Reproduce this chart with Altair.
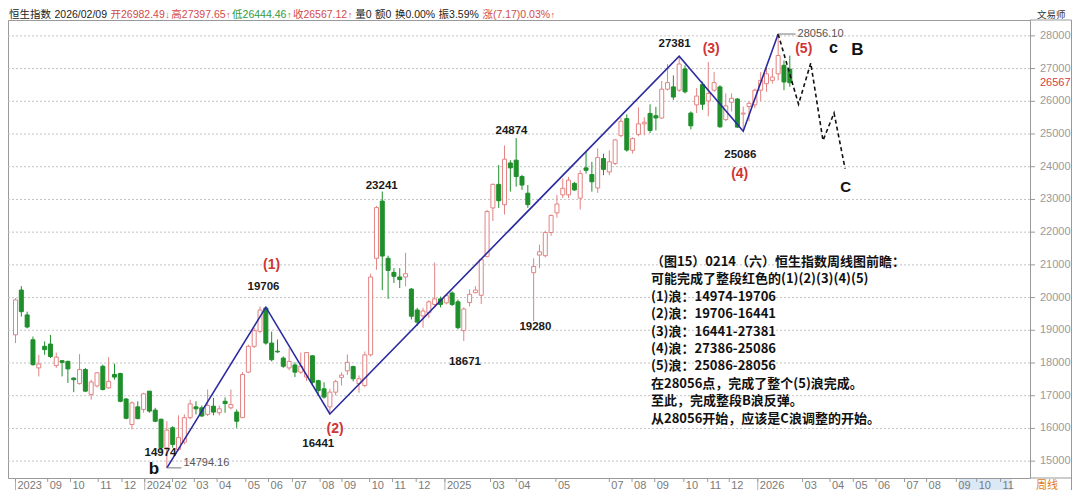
import altair as alt
import pandas as pd

# ---------------- data (weekly candles, first week 2023-07-24, last 2026-02-09) -------------
week_start = "2023-07-24"
opens = [18860, 20230, 19470, 18710, 17850, 18510, 18580, 17920, 18070, 18050,
         17540, 17370, 17800, 17040, 17300, 17900, 17240, 17650, 17680, 16900,
         16120, 16660, 16580, 17140, 16560, 16280, 15410, 16020, 15360, 15580,
         16330, 16660, 16630, 16430, 16680, 16480, 16830, 16630, 16500, 16330,
         17720, 18510, 18970, 19680, 18610, 18360, 18150, 17850, 17940, 17720,
         17570, 18220, 17460, 17210, 16660, 17110, 17560, 17760, 17890, 17370,
         17310, 18250, 21200, 22950, 21200, 20770, 20630, 20630, 20260, 19620,
         19440, 19540, 19790, 19960, 19840, 20140, 19870, 18990, 19850, 20150,
         20070, 21260, 22740, 23460, 22840, 24115, 24200, 23700, 23190, 20760,
         21300, 21280, 21990, 22590, 23140, 23140, 23490, 23040, 23965, 23760,
         23350, 24250, 23840, 24100, 24950, 25470, 24500, 24990, 25310, 25630,
         25560, 25490, 26370, 26440, 26340, 26990, 25640, 25890, 26510, 26010,
         26340, 26440, 25440, 25970, 26070, 25610, 25840, 25890, 26340, 26540,
         26640, 26840, 27100, 26982.49]
highs = [19980, 20350, 19570, 18810, 18250, 18660, 18860, 18320, 18090, 18070,
         17560, 18270, 17850, 17490, 17720, 17950, 18180, 17980, 17700, 16930,
         16830, 16830, 17090, 17140, 16630, 16300, 16220, 16070, 16400, 16430,
         16880, 16830, 16700, 17190, 16930, 16700, 16950, 17190, 16580, 17720,
         18560, 19070, 19730, 19706, 18960, 18720, 18200, 18450, 18020, 18320,
         18330, 18240, 17490, 17410, 17210, 17490, 17710, 18260, 17920, 17620,
         18350, 20730, 22800, 23241, 21280, 20900, 20900, 21370, 20290, 19690,
         19690, 19920, 21070, 20030, 20120, 20190, 19940, 19700, 20250, 20350,
         21180, 22680, 23490, 24050, 24650, 24200, 24874, 23750, 23440, 21200,
         21620, 22040, 22540, 23140, 23640, 23690, 23540, 23890, 24450, 24150,
         24560, 24400, 24500, 24850, 25500, 25600, 24900, 25810, 25510, 25910,
         25830, 26620, 27140, 26790, 27381, 27100, 25690, 26410, 26600, 27200,
         26900, 26490, 26240, 26240, 26100, 25840, 26000, 26390, 26890, 27020,
         27000, 28056.10, 27250, 27397.65]
lows = [18610, 19420, 19060, 17920, 17590, 18250, 18150, 17850, 17590, 17390,
        17110, 17340, 17110, 16880, 17250, 17160, 17210, 17490, 16800, 16280,
        15970, 16280, 16480, 16480, 16190, 15270, 14794.16, 15410, 15310, 15510,
        16280, 16430, 16350, 16380, 16400, 16400, 16480, 16580, 16020, 16330,
        17700, 18460, 18910, 18560, 18050, 18310, 17850, 17780, 17570, 17670,
        17450, 17310, 17000, 16910, 16441, 17010, 17310, 17640, 17440, 17090,
        17260, 18200, 20850, 20230, 19960, 20445, 20290, 20340, 19330, 19130,
        19080, 19380, 19740, 19700, 19790, 19740, 19030, 18671, 19730, 20130,
        19800, 21230, 22340, 22740, 22540, 23240, 23390, 23290, 22740, 19280,
        20900, 21230, 21890, 22440, 23040, 23040, 23260, 22690, 23790, 23240,
        23200, 23740, 23740, 24050, 24900, 24460, 24400, 24930, 24960, 25030,
        25110, 25460, 26330, 26040, 26290, 26240, 25140, 25640, 25740, 25540,
        26290, 25190, 25390, 25690, 25190, 25086, 25390, 25790, 26010, 26290,
        26540, 26640, 26340, 26444.46]
closes = [19930, 19570, 19100, 17950, 17970, 18410, 18200, 18180, 18020, 17820,
          17490, 17800, 17140, 17420, 17700, 17190, 17440, 17570, 16830, 16310,
          16780, 16300, 17060, 16530, 16220, 15410, 15950, 15510, 15720, 16330,
          16750, 16600, 16380, 16700, 16500, 16600, 16760, 16730, 16220, 17650,
          18510, 18990, 19620, 18610, 18100, 18340, 17900, 18050, 17720, 17900,
          18320, 17410, 17160, 16960, 17110, 17430, 17630, 18020, 17520, 17520,
          18250, 20630, 22750, 21270, 20830, 20650, 20550, 20730, 19430, 19250,
          19590, 19870, 19960, 19790, 20060, 19790, 19080, 19650, 20100, 20230,
          21160, 22630, 23460, 22960, 24230, 23965, 23700, 23440, 22840, 20950,
          21400, 21990, 22510, 22860, 23340, 23590, 23290, 23790, 23890, 23540,
          24280, 23920, 24150, 24820, 25390, 24510, 24860, 25310, 25360, 25110,
          25490, 26370, 26570, 26130, 27140, 26290, 25250, 26160, 25910, 26240,
          26570, 25220, 25860, 26090, 25210, 25640, 25940, 26340, 26640, 26840,
          26740, 27400, 26590, 26567.12]

# wave count (blue) and projected path (dashed): week index / index value
wave_week = [26, 43, 54, 114, 125, 131]
wave_value = [14794.16, 19706, 16441, 27381, 25086, 28056.10]
proj_week = [131, 134.5, 136.6, 138.7, 140.6, 142.5]
proj_value = [28056.10, 25910, 27170, 24800, 25640, 23940]

# x-axis ticks (week index) and labels
tick_week = [0, 5.53, 9.44, 14.21, 18.29, 22.2, 26.97, 30.71, 34.63, 39.56, 43.47,
             47.56, 52.32, 56.07, 60.83, 64.75, 68.83, 73.76, 81.59, 86.01, 92.82,
             102.0, 105.9, 109.8, 114.8, 118.9, 122.6, 127.5, 135.2, 139.9, 143.9,
             147.8, 152.7, 156.5, 161.6, 165.1, 169.2]
tick_label = ["2023", "09", "10", "11", "12", "2024", "02", "03", "04", "05", "06",
              "07", "08", "09", "10", "11", "12", "2025", "03", "04", "05",
              "07", "08", "09", "10", "11", "12", "2026", "03", "04", "05",
              "06", "07", "08", "09", "10", "11"]
year_tick_week = [0, 22.2, 73.76, 127.5]
y_ticks = list(range(15000, 28001, 1000))

# annotations
num_text = ["14974", "19706", "16441", "23241", "18671", "24874", "19280", "27381", "25086"]
num_week = [24.9, 42.6, 52.0, 62.9, 77.2, 85.2, 89.3, 113.2, 124.5]
num_value = [15242, 20333, 15515, 23409, 18045, 25090, 19090, 27758, 24364]

wave_lbl_text = ["(1)", "(2)", "(3)", "(4)", "(5)"]
wave_lbl_week = [44.0, 54.9, 119.5, 124.4, 135.4]
wave_lbl_value = [21000, 15970, 27606, 23790, 27606]

letter_text = ["b", "c", "B", "C"]
letter_week = [23.8, 140.5, 144.6, 142.6]
letter_value = [14610, 27480, 27420, 23242]
letter_size = [17, 16, 17, 15]

mark_text = ["14794.16", "28056.10"]
mark_from = [26, 131]
mark_to = [28.5, 134.0]
mark_value = [14794.16, 28056.10]
mark_text_value = [14940, 28050]

last_close = 26567.12

header_text = ["恒生指数", "2026/02/09", "开26982.49", "高27397.65", "低26444.46",
               "收26567.12", "量0", "额0", "换0.00%", "振3.59%", "涨(7.17)0.03%"]
header_arrow = ["", "", "↓", "↑", "↑", "↑", "", "", "", "", "↑"]
header_color = ["#222222", "#222222", "#d24b4b", "#d24b4b", "#2f9a3c",
                "#d24b4b", "#222222", "#222222", "#222222", "#222222", "#d24b4b"]
header_gap = [3.5, 3.5, 0, 0, 0, 1.5, 3.5, 3.5, 3.5, 3.5, 0]

note_lines = ["（图15）0214（六）恒生指数周线图前瞻：",
              "可能完成了整段红色的(1)(2)(3)(4)(5)",
              "(1)浪：14974-19706",
              "(2)浪：19706-16441",
              "(3)浪：16441-27381",
              "(4)浪：27386-25086",
              "(5)浪：25086-28056",
              "在28056点，完成了整个(5)浪完成。",
              "至此，完成整段B浪反弹。",
              "从28056开始，应该是C浪调整的开始。"]

# ---------------- build -------------
RED = "#e38383"
GREEN = "#1f8f2b"
CJK = "Noto Sans CJK SC"
LAT = "Liberation Sans"
W, H = 1022, 458          # plot area
HDR_Y = -5

n = len(opens)
df = pd.DataFrame({
    "i": list(range(n)),
    "week": pd.date_range(week_start, periods=n, freq="7D").strftime("%Y-%m-%d"),
    "open": opens, "high": highs, "low": lows, "close": closes,
})
df["dir"] = ["up" if c >= o else "down" for o, c in zip(opens, closes)]

xs = alt.Scale(domain=[-0.43, 173.4], nice=False, zero=False)
ys = alt.Scale(domain=[14485, 28485], nice=False, zero=False)
one = pd.DataFrame({"a": [0]})


def X(field):
    return alt.X(field, scale=xs, axis=None)


def Y(field):
    return alt.Y(field, scale=ys, axis=None)


# ---- hand-made axes ----
ydf = pd.DataFrame({"v": y_ticks, "lab": [str(v) for v in y_ticks]})
ygrid = alt.Chart(ydf).mark_rule(color="#c2c2c2", strokeDash=[2, 2], strokeWidth=1).encode(
    y=Y("v:Q"), x=alt.value(0), x2=alt.value(W))
ytick = alt.Chart(ydf).mark_rule(color="#9a9a9a").encode(
    y=Y("v:Q"), x=alt.value(W), x2=alt.value(W + 5))
ylab = alt.Chart(ydf).mark_text(align="left", baseline="middle", font=LAT, fontSize=11,
                                color="#9a9a9a").encode(
    y=Y("v:Q"), x=alt.value(W + 10), text="lab:N")

xdf = pd.DataFrame({"t": tick_week, "lab": tick_label})
hl = alt.Chart(pd.DataFrame({"x0": [162.1], "x1": [171.1]})).mark_rect(color="#dbe8f6").encode(
    x=X("x0:Q"), x2="x1:Q", y=alt.value(H + 1), y2=alt.value(H + 13))
xtick = alt.Chart(xdf).mark_rule(color="#9a9a9a").encode(
    x=X("t:Q"), y=alt.value(H), y2=alt.value(H + 4))
ysep = alt.Chart(pd.DataFrame({"t": year_tick_week})).mark_rule(color="#b0b0b0").encode(
    x=X("t:Q"), y=alt.value(H), y2=alt.value(H + 13))
xlab = alt.Chart(xdf).mark_text(align="left", baseline="top", dx=2, font=LAT, fontSize=11,
                                color="#7a7a7a").encode(
    x=X("t:Q"), y=alt.value(H + 1.5), text="lab:N")

# ---- candles ----
wick = alt.Chart(df).mark_rule(strokeWidth=1).encode(
    x=X("i:Q"), y=Y("low:Q"), y2="high:Q",
    color=alt.Color("dir:N", scale=alt.Scale(domain=["up", "down"], range=[RED, GREEN]), legend=None),
)
body = alt.Chart(df).mark_bar(size=4, strokeWidth=1).encode(
    x=X("i:Q"), y=Y("open:Q"), y2="close:Q",
    fill=alt.Fill("dir:N", scale=alt.Scale(domain=["up", "down"], range=["#ffffff", GREEN]), legend=None),
    stroke=alt.Stroke("dir:N", scale=alt.Scale(domain=["up", "down"], range=[RED, GREEN]), legend=None),
)

wave = alt.Chart(pd.DataFrame({"w": wave_week, "v": wave_value, "k": range(len(wave_week))})).mark_line(
    color="#2b2ba0", strokeWidth=1.6).encode(x=X("w:Q"), y=Y("v:Q"), order="k:Q")
proj = alt.Chart(pd.DataFrame({"w": proj_week, "v": proj_value, "k": range(len(proj_week))})).mark_line(
    color="#111111", strokeWidth=1.6, strokeDash=[4, 3]).encode(x=X("w:Q"), y=Y("v:Q"), order="k:Q")

mdf = pd.DataFrame({"a": mark_from, "b": mark_to, "v": mark_value, "t": mark_text, "tv": mark_text_value})
conn = alt.Chart(mdf).mark_rule(color="#777777", strokeWidth=1).encode(
    x=X("a:Q"), x2="b:Q", y=Y("v:Q"))
conn_t = alt.Chart(mdf).mark_text(align="left", baseline="middle", font=LAT, fontSize=11,
                                  color="#555555", dx=2).encode(
    x=X("b:Q"), y=Y("tv:Q"), text="t:N")

nums = alt.Chart(pd.DataFrame({"w": num_week, "v": num_value, "t": num_text})).mark_text(
    font=LAT, fontSize=11.5, fontWeight="bold", color="#1a1a1a", baseline="middle").encode(
    x=X("w:Q"), y=Y("v:Q"), text="t:N")
wlbl = alt.Chart(pd.DataFrame({"w": wave_lbl_week, "v": wave_lbl_value, "t": wave_lbl_text})).mark_text(
    font=LAT, fontSize=14, fontWeight="bold", color="#d03535", baseline="middle").encode(
    x=X("w:Q"), y=Y("v:Q"), text="t:N")
letters = alt.Chart(pd.DataFrame({"w": letter_week, "v": letter_value, "t": letter_text,
                                  "s": letter_size})).mark_text(
    font=LAT, fontWeight="bold", color="#111111", baseline="alphabetic").encode(
    x=X("w:Q"), y=Y("v:Q"), text="t:N", size=alt.Size("s:Q", scale=None, legend=None))

tag = alt.Chart(pd.DataFrame({"v": [last_close], "t": [f"{last_close:.0f}"]})).mark_text(
    align="left", baseline="middle", font=LAT, fontSize=11, color="#d94040").encode(
    x=alt.value(W + 10), y=Y("v:Q"), text="t:N")


# ---- header line (segments laid out one after another) ----
def text_width(s, f):
    w = 0.0
    for ch in s:
        if ch.isdigit():
            w += 0.556
        elif ch in "./ ":
            w += 0.278
        elif ch == "%":
            w += 0.889
        elif ch in "()":
            w += 0.333
        else:
            w += 1.0
    return w * f


HF = 10.5
header = []
cx = 1.0
for t, a, c, g in zip(header_text, header_arrow, header_color, header_gap):
    header.append(alt.Chart(one).mark_text(align="left", baseline="middle",
                                           font=LAT + ", " + CJK, fontSize=HF,
                                           color=c, text=t).encode(
        x=alt.value(round(cx, 1)), y=alt.value(HDR_Y)))
    cx += text_width(t, HF)
    if a:
        header.append(alt.Chart(one).mark_text(align="left", baseline="middle", font=LAT,
                                               fontSize=9, color=c, text=a).encode(
            x=alt.value(round(cx + 0.5, 1)), y=alt.value(HDR_Y)))
        cx += 6.5
    cx += g

note = alt.Chart(one).mark_text(align="left", baseline="top", font=CJK, fontSize=13,
                                fontWeight="bold", color="#111111", lineHeight=17.4,
                                text=note_lines).encode(x=alt.value(643), y=alt.value(236))

corner = alt.Chart(one).mark_text(align="left", baseline="middle", font=CJK, fontSize=9.5,
                                  color="#333333", text="文易师").encode(
    x=alt.value(W + 7), y=alt.value(-5.5))
weekly = alt.Chart(one).mark_text(align="center", baseline="middle", font=CJK, fontSize=11,
                                  color="#e07a20", text="周线").encode(
    x=alt.value(W + 17), y=alt.value(H + 7.5))

frame_v = alt.Chart(one).mark_rule(color="#999999").encode(
    x=alt.value(1063.5), y=alt.value(0), y2=alt.value(H + 14))
frame_top = alt.Chart(one).mark_rule(color="#999999").encode(
    x=alt.value(W), x2=alt.value(1063.5), y=alt.value(0))
frame_bot = alt.Chart(one).mark_rule(color="#999999").encode(
    x=alt.value(W), x2=alt.value(1063.5), y=alt.value(H))

chart = alt.layer(
    ygrid, hl, ysep, xtick, xlab, ytick, ylab,
    wick, body, wave, proj, conn, conn_t, nums, wlbl, letters, tag,
    *header, note, corner, weekly, frame_v, frame_top, frame_bot
).properties(
    width=W, height=H,
    padding={"left": 0, "top": 12, "right": 42, "bottom": 12},
    autosize=alt.AutoSizeParams(type="none"),
    background="#ffffff",
).configure_view(stroke="#9a9a9a", strokeWidth=1)

chart.save("out.html", embed_options={"renderer": "svg", "actions": False})
